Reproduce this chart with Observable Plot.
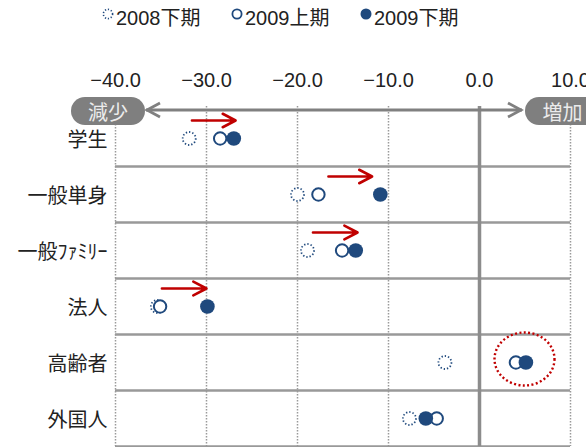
<!DOCTYPE html>
<html><head><meta charset="utf-8">
<script src="https://cdn.jsdelivr.net/npm/d3@7"></script>
<script src="https://cdn.jsdelivr.net/npm/@observablehq/plot@0.6"></script>
<style>
body{margin:0;background:#fff;font-family:"Noto Sans CJK JP","Noto Sans",sans-serif;}
#legend{position:relative;width:586px;height:34px;}
.item{position:absolute;top:0;height:32px;display:flex;align-items:center;font-size:20px;color:#222;white-space:nowrap;font-family:"Liberation Sans","Noto Sans CJK JP",sans-serif;}
.item svg{margin-right:2px;}
</style></head><body>
<div id="legend"></div>
<div id="chart"></div>
<script>
// ---- data ----
const categories = ["学生","一般単身","一般ﾌｧﾐﾘｰ","法人","高齢者","外国人"];
const seriesNames = ["2008下期","2009上期","2009下期"];
const v2008H2 = [-31.9,-20.0,-18.9,-35.4,-3.8,-7.7];
const v2009H1 = [-28.5,-17.7,-15.1,-35.1,4.0,-4.7];
const v2009H2 = [-27.0,-10.9,-13.6,-29.9,5.1,-5.9];
const xTicks = [-40,-30,-20,-10,0,10];
const arrowCats = ["学生","一般単身","一般ﾌｧﾐﾘｰ","法人"];
const arrowFrom = [-31.6,-16.6,-18.3,-34.9];
const arrowTo = [-26.8,-11.8,-13.4,-30.0];
const highlightCat = "高齢者";
const highlightX = 5.0;
const decreaseLabel = "減少", increaseLabel = "増加";

const blue = "#1F497D", red = "#C00000", gray = "#808080";
const font = '"Noto Sans CJK JP","Noto Sans",sans-serif';
const numFont = '"Liberation Sans","Noto Sans CJK JP",sans-serif';

// ---- legend (HTML) ----
const legend = d3.select("#legend");
const styles = [
  {fill:"white", stroke:blue, dash:"1.2,1.8", sw:1.6},
  {fill:"white", stroke:blue, dash:null, sw:1.8},
  {fill:blue, stroke:blue, dash:null, sw:0}
];
seriesNames.forEach((name,i)=>{
  const it = legend.append("div").attr("class","item").style("left",(102+i*129)+"px");
  const s = it.append("svg").attr("width",12).attr("height",12).style("margin-top","-4px");
  const st = styles[i];
  s.append("circle").attr("cx",6).attr("cy",6).attr("r", i===2?5.5:4.6)
    .attr("fill",st.fill).attr("stroke",st.sw?st.stroke:"none").attr("stroke-width",st.sw)
    .attr("stroke-dasharray",st.dash);
  it.append("span").text(name);
});

// ---- chart ----
const rows = categories.map((c,i)=>({cat:c, a:v2008H2[i], b:v2009H1[i], c:v2009H2[i]}));
const arrows = arrowCats.map((c,i)=>({cat:c, x1:arrowFrom[i], x2:arrowTo[i]}));
const H = 413, mt = 76, mb = 1;
const band = (H-mt-mb)/categories.length;

function topBar(index, scales, values, dims) {
  const g = d3.create("svg:g");
  const y0 = dims.marginTop;
  const L = dims.marginLeft, R = dims.width - dims.marginRight;
  const xl = L + 31, xr = R - 48;
  g.append("line").attr("x1",xl).attr("x2",xr).attr("y1",y0).attr("y2",y0)
    .attr("stroke",gray).attr("stroke-width",2.8);
  g.append("path").attr("d",`M${xl+14},${y0-7}L${xl+1},${y0}L${xl+14},${y0+7}`)
    .attr("fill","none").attr("stroke",gray).attr("stroke-width",2.8);
  g.append("path").attr("d",`M${xr-14},${y0-7}L${xr-1},${y0}L${xr-14},${y0+7}`)
    .attr("fill","none").attr("stroke",gray).attr("stroke-width",2.8);
  const boxes = [
    {x: L-44, w:74, t:decreaseLabel},
    {x: xr+3, w:75, t:increaseLabel}
  ];
  boxes.forEach(b=>{
    g.append("rect").attr("x",b.x).attr("y",y0-13).attr("width",b.w).attr("height",28)
      .attr("rx",14).attr("fill","#7f7f7f");
    g.append("text").attr("x",b.x+b.w/2).attr("y",y0+1).attr("text-anchor","middle")
      .attr("dominant-baseline","central").attr("fill","#ececec")
      .attr("font-size",20).attr("font-family",font).text(b.t);
  });
  return g.node();
}

function ellipse(index, scales, values, dims) {
  const y = scales.y;
  const bw = y.bandwidth ? y.bandwidth() : band;
  return d3.create("svg:ellipse")
    .attr("cx", scales.x(highlightX)).attr("cy", y(highlightCat) + bw/2 - 3)
    .attr("rx", 30).attr("ry", 26.5)
    .attr("fill","none").attr("stroke",red).attr("stroke-width",2.4)
    .attr("stroke-dasharray","2,2.4").node();
}

const chart = Plot.plot({
  width:586, height:H, marginTop:mt, marginBottom:mb, marginLeft:115, marginRight:16,
  style:{fontFamily:font, fontSize:"20px", color:"#222", background:"#fff", overflow:"visible"},
  x:{domain:[-40,10]},
  y:{type:"band", domain:categories, padding:0},
  marks:[
    Plot.ruleX(xTicks,{stroke:"#9a9a9a", strokeWidth:1.5, strokeDasharray:"1.5,1.5", insetTop:-4}),
    Plot.ruleY(categories,{y:d=>d, dy: band/2, stroke:"#999", strokeWidth:2.5}),
    Plot.ruleX([0],{stroke:"#8c8c8c", strokeWidth:3.5, insetTop:-4}),
    Plot.axisX(xTicks,{anchor:"top", tickSize:0, tickPadding:24, tickFormat:d3.format(".1f"), fontSize:20, fontFamily:numFont, label:null}),
    Plot.axisY({tickSize:0, tickPadding:8, fontSize:20, label:null, dy:2}),
    topBar,
    Plot.arrow(arrows,{x1:"x1", x2:"x2", y1:"cat", y2:"cat", dy:-18, stroke:red, strokeWidth:2.6, headLength:13, headAngle:55}),
    Plot.dot(rows,{x:"a", y:"cat", r:6.5, stroke:blue, strokeWidth:1.8, strokeDasharray:"1.3,2", fill:"white"}),
    Plot.dot(rows,{x:"b", y:"cat", r:6.2, stroke:blue, strokeWidth:2, fill:"white"}),
    Plot.dot(rows,{x:"c", y:"cat", r:7.3, fill:blue}),
    ellipse
  ]
});
document.getElementById("chart").appendChild(chart);
</script>
</body></html>
